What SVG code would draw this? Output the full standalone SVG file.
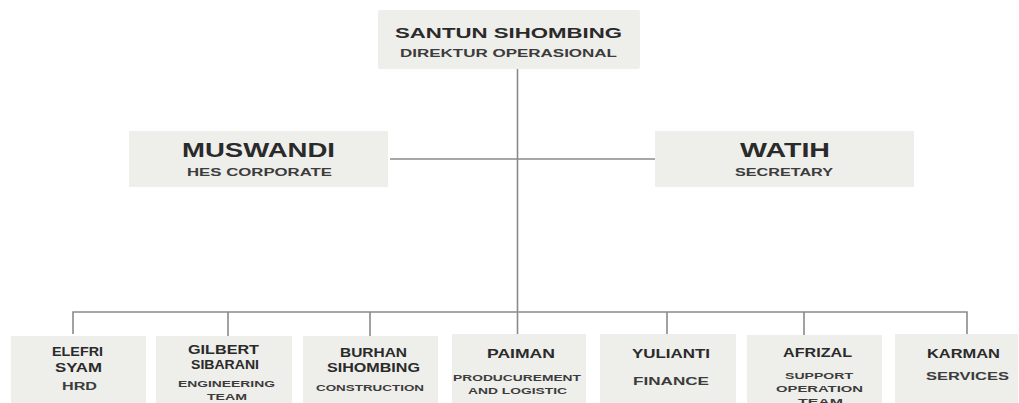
<svg xmlns="http://www.w3.org/2000/svg" width="1019" height="403" viewBox="0 0 1019 403">
<style>
.box{fill:#eeeeea}
.t{font-family:"Liberation Sans",Arial,sans-serif;font-weight:bold;fill:#2a2a2a;text-anchor:middle}
.s{font-family:"Liberation Sans",Arial,sans-serif;font-weight:bold;fill:#3c3c3c;text-anchor:middle}
.ln{stroke:#8a8a8a;stroke-width:1.6;fill:none}
</style>
<rect width="1019" height="403" fill="#ffffff"/>
<g id="connectors">
<line class="ln" x1="517.5" y1="69" x2="517.5" y2="334"/>
<line class="ln" x1="390" y1="159" x2="655" y2="159"/>
<path class="ln" d="M73 334V312H967V334"/>
<line class="ln" x1="228" y1="312" x2="228" y2="336"/>
<line class="ln" x1="370" y1="312" x2="370" y2="336"/>
<line class="ln" x1="667" y1="312" x2="667" y2="334"/>
<line class="ln" x1="804" y1="312" x2="804" y2="335"/>
</g>
<g id="santun">
<rect class="box" x="378" y="10" width="262" height="59" rx="2"/>
<text class="t" x="508.5" y="37.5" font-size="15.5" textLength="227" lengthAdjust="spacingAndGlyphs">SANTUN SIHOMBING</text>
<text class="s" x="508.5" y="56.5" font-size="10" textLength="217" lengthAdjust="spacingAndGlyphs">DIREKTUR OPERASIONAL</text>
</g>
<g id="muswandi">
<rect class="box" x="129" y="131" width="259" height="56"/>
<text class="t" x="258.5" y="157" font-size="20" textLength="153" lengthAdjust="spacingAndGlyphs">MUSWANDI</text>
<text class="s" x="259.5" y="176" font-size="11.5" textLength="145" lengthAdjust="spacingAndGlyphs">HES CORPORATE</text>
</g>
<g id="watih">
<rect class="box" x="655" y="131" width="259" height="56"/>
<text class="t" x="785" y="157" font-size="20" textLength="90" lengthAdjust="spacingAndGlyphs">WATIH</text>
<text class="s" x="784" y="176" font-size="11.5" textLength="98" lengthAdjust="spacingAndGlyphs">SECRETARY</text>
</g>
<g id="elefri">
<rect class="box" x="11" y="336" width="135" height="70"/>
<text class="t" x="77.5" y="356" font-size="12" textLength="51" lengthAdjust="spacingAndGlyphs">ELEFRI</text>
<text class="t" x="78.5" y="372" font-size="12" textLength="47" lengthAdjust="spacingAndGlyphs">SYAM</text>
<text class="s" x="79.5" y="390" font-size="10" textLength="35" lengthAdjust="spacingAndGlyphs">HRD</text>
</g>
<g id="gilbert">
<rect class="box" x="156" y="336" width="136" height="70"/>
<text class="t" x="223.5" y="354" font-size="12" textLength="71" lengthAdjust="spacingAndGlyphs">GILBERT</text>
<text class="t" x="225" y="369" font-size="12" textLength="68" lengthAdjust="spacingAndGlyphs">SIBARANI</text>
<text class="s" x="226.5" y="387" font-size="9" textLength="97" lengthAdjust="spacingAndGlyphs">ENGINEERING</text>
<text class="s" x="227" y="400" font-size="9" textLength="40" lengthAdjust="spacingAndGlyphs">TEAM</text>
</g>
<g id="burhan">
<rect class="box" x="303" y="336" width="135" height="70"/>
<text class="t" x="373.5" y="357" font-size="12" textLength="67" lengthAdjust="spacingAndGlyphs">BURHAN</text>
<text class="t" x="373.5" y="372" font-size="12" textLength="93" lengthAdjust="spacingAndGlyphs">SIHOMBING</text>
<text class="s" x="370" y="391" font-size="9" textLength="108" lengthAdjust="spacingAndGlyphs">CONSTRUCTION</text>
</g>
<g id="paiman">
<rect class="box" x="452" y="334" width="134" height="72"/>
<text class="t" x="521" y="358" font-size="13" textLength="68" lengthAdjust="spacingAndGlyphs">PAIMAN</text>
<text class="s" x="517" y="381" font-size="9" textLength="128" lengthAdjust="spacingAndGlyphs">PRODUCUREMENT</text>
<text class="s" x="517.5" y="393.5" font-size="9" textLength="99" lengthAdjust="spacingAndGlyphs">AND LOGISTIC</text>
</g>
<g id="yulianti">
<rect class="box" x="600" y="334" width="136" height="72"/>
<text class="t" x="671" y="358" font-size="12.5" textLength="78" lengthAdjust="spacingAndGlyphs">YULIANTI</text>
<text class="s" x="671" y="385" font-size="10.5" textLength="76" lengthAdjust="spacingAndGlyphs">FINANCE</text>
</g>
<g id="afrizal">
<rect class="box" x="747" y="335" width="135" height="71"/>
<text class="t" x="817.5" y="357" font-size="12.5" textLength="69" lengthAdjust="spacingAndGlyphs">AFRIZAL</text>
<text class="s" x="819" y="379" font-size="9.5" textLength="68" lengthAdjust="spacingAndGlyphs">SUPPORT</text>
<text class="s" x="819.5" y="392" font-size="9.5" textLength="87" lengthAdjust="spacingAndGlyphs">OPERATION</text>
<text class="s" x="820.5" y="405" font-size="9.5" textLength="45" lengthAdjust="spacingAndGlyphs">TEAM</text>
</g>
<g id="karman">
<rect class="box" x="895" y="334" width="123" height="72"/>
<text class="t" x="963.5" y="358" font-size="12.5" textLength="73" lengthAdjust="spacingAndGlyphs">KARMAN</text>
<text class="s" x="967.5" y="380" font-size="10.5" textLength="83" lengthAdjust="spacingAndGlyphs">SERVICES</text>
</g>
</svg>
